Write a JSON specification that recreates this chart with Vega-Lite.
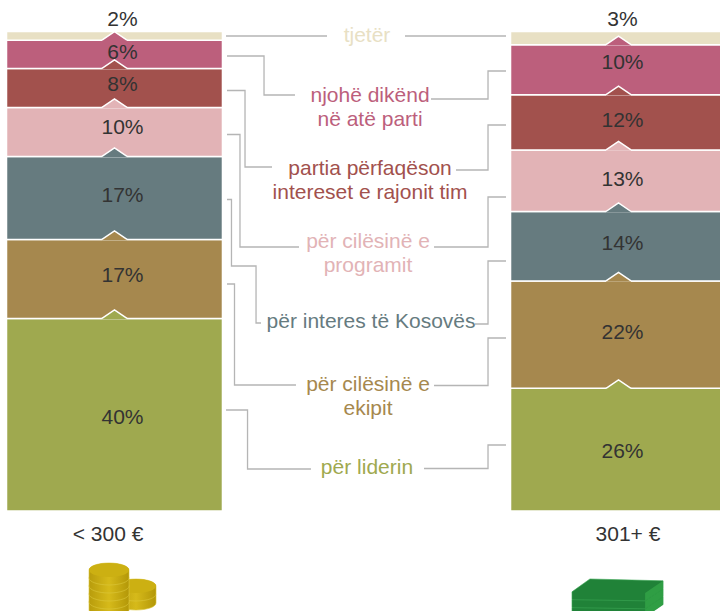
{
"$schema":"https://vega.github.io/schema/vega-lite/v6.json",
"width":720,"height":611,"padding":0,"autosize":{"type":"none"},"background":"white",
"config":{"view":{"stroke":null},"text":{"font":"Liberation Sans"}},
"datasets":{
"bars":[
{"income":"< 300 €","reason":"për liderin","order":1,"share":40.15,"label":"40%","labelAt":18.14},
{"income":"< 300 €","reason":"për cilësinë e ekipit","order":2,"share":16.48,"label":"17%","labelAt":47.86},
{"income":"< 300 €","reason":"për interes të Kosovës","order":3,"share":17.31,"label":"17%","labelAt":64.44},
{"income":"< 300 €","reason":"për cilësinë e programit","order":4,"share":10.22,"label":"10%","labelAt":78.62},
{"income":"< 300 €","reason":"partia përfaqëson interesat e rajonit tim","order":5,"share":8.13,"label":"8%","labelAt":87.59},
{"income":"< 300 €","reason":"njohë dikënd në atë parti","order":6,"share":5.9,"label":"6%","labelAt":94.26},
{"income":"< 300 €","reason":"tjetër","order":7,"share":1.81,"label":"2%","labelAt":101.15},
{"income":"301+ €","reason":"për liderin","order":1,"share":25.59,"label":"26%","labelAt":11.05},
{"income":"301+ €","reason":"për cilësinë e ekipit","order":2,"share":22.38,"label":"22%","labelAt":35.87},
{"income":"301+ €","reason":"për interes të Kosovës","order":3,"share":14.49,"label":"14%","labelAt":54.43},
{"income":"301+ €","reason":"për cilësinë e programit","order":4,"share":12.83,"label":"13%","labelAt":67.78},
{"income":"301+ €","reason":"partia përfaqëson interesat e rajonit tim","order":5,"share":11.53,"label":"12%","labelAt":80.08},
{"income":"301+ €","reason":"njohë dikënd në atë parti","order":6,"share":10.43,"label":"10%","labelAt":92.18},
{"income":"301+ €","reason":"tjetër","order":7,"share":2.75,"label":"3%","labelAt":101.15}
],
"notes":[
{"reason":"tjetër","text":"tjetër","gx":50.97,"v":97.81},
{"reason":"njohë dikënd në atë parti","text":"njohë dikënd\nnë atë parti","gx":51.39,"v":85.3},
{"reason":"partia përfaqëson interesat e rajonit tim","text":"partia përfaqëson\nintereset e rajonit tim","gx":51.39,"v":70.07},
{"reason":"për cilësinë e programit","text":"për cilësinë e\nprogramit","gx":51.11,"v":54.85},
{"reason":"për interes të Kosovës","text":"për interes të Kosovës","gx":51.53,"v":38.16},
{"reason":"për cilësinë e ekipit","text":"për cilësinë e\nekipit","gx":51.11,"v":25.03},
{"reason":"për liderin","text":"për liderin","gx":50.97,"v":7.72}
],
"groups":[
{"text":"< 300 €","gx":15,"v":-6.36},
{"text":"301+ €","gx":87.22,"v":-6.36}
],
"leaders":[
{"id":"a1","seq":1,"gx":31.39,"v":99.06},{"id":"a1","seq":2,"gx":45.42,"v":99.06},
{"id":"a2","seq":1,"gx":56.25,"v":99.06},{"id":"a2","seq":2,"gx":70.28,"v":99.06},
{"id":"b1","seq":1,"gx":31.53,"v":94.89},{"id":"b1","seq":2,"gx":36.67,"v":94.89},{"id":"b1","seq":3,"gx":36.67,"v":86.76},{"id":"b1","seq":4,"gx":40.97,"v":86.76},
{"id":"b2","seq":1,"gx":59.86,"v":85.92},{"id":"b2","seq":2,"gx":67.78,"v":85.92},{"id":"b2","seq":3,"gx":67.78,"v":91.76},{"id":"b2","seq":4,"gx":70.28,"v":91.76},
{"id":"c1","seq":1,"gx":31.53,"v":87.7},{"id":"c1","seq":2,"gx":34.03,"v":87.7},{"id":"c1","seq":3,"gx":34.03,"v":71.74},{"id":"c1","seq":4,"gx":37.78,"v":71.74},
{"id":"c2","seq":1,"gx":63.33,"v":71.12},{"id":"c2","seq":2,"gx":67.78,"v":71.12},{"id":"c2","seq":3,"gx":67.78,"v":80.5},{"id":"c2","seq":4,"gx":70.28,"v":80.5},
{"id":"d1","seq":1,"gx":31.53,"v":78.52},{"id":"d1","seq":2,"gx":33.33,"v":78.52},{"id":"d1","seq":3,"gx":33.33,"v":55.06},{"id":"d1","seq":4,"gx":41.53,"v":55.06},
{"id":"d2","seq":1,"gx":60.28,"v":55.06},{"id":"d2","seq":2,"gx":67.78,"v":55.06},{"id":"d2","seq":3,"gx":67.78,"v":65.48},{"id":"d2","seq":4,"gx":70.28,"v":65.48},
{"id":"e1","seq":1,"gx":31.53,"v":64.96},{"id":"e1","seq":2,"gx":32.15,"v":64.96},{"id":"e1","seq":3,"gx":32.15,"v":51.09},{"id":"e1","seq":4,"gx":35.56,"v":51.09},{"id":"e1","seq":5,"gx":35.56,"v":39.21},{"id":"e1","seq":6,"gx":36.25,"v":39.21},
{"id":"e2","seq":1,"gx":65.97,"v":39},{"id":"e2","seq":2,"gx":67.78,"v":39},{"id":"e2","seq":3,"gx":67.78,"v":52.14},{"id":"e2","seq":4,"gx":70.28,"v":52.14},
{"id":"f1","seq":1,"gx":31.53,"v":47.34},{"id":"f1","seq":2,"gx":32.57,"v":47.34},{"id":"f1","seq":3,"gx":32.57,"v":26.28},{"id":"f1","seq":4,"gx":41.11,"v":26.28},
{"id":"f2","seq":1,"gx":60.28,"v":26.17},{"id":"f2","seq":2,"gx":67.78,"v":26.17},{"id":"f2","seq":3,"gx":67.78,"v":36.08},{"id":"f2","seq":4,"gx":70.28,"v":36.08},
{"id":"g1","seq":1,"gx":31.39,"v":21.06},{"id":"g1","seq":2,"gx":34.38,"v":21.06},{"id":"g1","seq":3,"gx":34.38,"v":8.76},{"id":"g1","seq":4,"gx":43.19,"v":8.76},
{"id":"g2","seq":1,"gx":58.89,"v":8.86},{"id":"g2","seq":2,"gx":67.78,"v":8.86},{"id":"g2","seq":3,"gx":67.78,"v":13.76},{"id":"g2","seq":4,"gx":70.28,"v":13.76}
],
"coinsBack":[{"n":1,"gx":18.89,"v":-17.52},{"n":2,"gx":18.89,"v":-15.64}],
"coinsFront":[{"n":1,"gx":15.14,"v":-18.98},{"n":2,"gx":15.14,"v":-17.31},{"n":3,"gx":15.14,"v":-15.64},{"n":4,"gx":15.14,"v":-13.97},{"n":5,"gx":15.14,"v":-12.3}],
"cash":[{"n":1,"gx":85.83,"v":-19.81},{"n":2,"gx":85.83,"v":-18.14},{"n":3,"gx":85.83,"v":-16.48}]
},
"layer":[
{"data":{"name":"bars"},
 "transform":[{"stack":"share","groupby":["income"],"sort":[{"field":"order","order":"ascending"}],"as":["y0","y1"]}],
 "mark":{"type":"bar","stroke":"white","strokeWidth":1.5},
 "encoding":{
  "x":{"field":"income","type":"nominal","axis":null,"sort":["< 300 €","labels","301+ €"],"scale":{"type":"band","domain":["< 300 €","labels","301+ €"],"range":[6.5,726.5],"paddingInner":0.143,"paddingOuter":0}},
  "y":{"field":"y0","type":"quantitative","axis":null,"scale":{"domain":[0,100],"range":[511,31.5],"nice":false,"zero":false}},
  "y2":{"field":"y1"},
  "color":{"field":"reason","type":"nominal","legend":null,"scale":{"domain":["për liderin","për cilësinë e ekipit","për interes të Kosovës","për cilësinë e programit","partia përfaqëson interesat e rajonit tim","njohë dikënd në atë parti","tjetër"],"range":["#9FA94F","#A6884E","#667B7F","#E2B3B6","#A2514D","#BC5F7C","#E8E0C4"]}}
 }},
{"data":{"name":"bars"},
 "transform":[{"stack":"share","groupby":["income"],"sort":[{"field":"order","order":"ascending"}],"as":["y0","y1"]},{"filter":"datum.reason !== 'tjetër'"}],
 "mark":{"type":"point","filled":true,"opacity":1,"strokeWidth":0,"shape":"M-1,0.07 L-1,0 L0,-0.68 L1,0 L1,0.07 Z","size":625},
 "encoding":{
  "x":{"field":"income","type":"nominal","axis":null,"scale":{"type":"band","domain":["< 300 €","labels","301+ €"],"range":[6.5,726.5],"paddingInner":0.143,"paddingOuter":0}},
  "y":{"field":"y1","type":"quantitative","axis":null,"scale":{"domain":[0,100],"range":[511,31.5],"nice":false,"zero":false}},
  "color":{"field":"reason","type":"nominal","legend":null}
 }},
{"data":{"name":"bars"},
 "transform":[{"stack":"share","groupby":["income"],"sort":[{"field":"order","order":"ascending"}],"as":["y0","y1"]},{"filter":"datum.reason !== 'tjetër'"}],
 "mark":{"type":"point","filled":false,"opacity":1,"stroke":"white","strokeWidth":1.5,"shape":"M-1,0 L0,-0.68 L1,0","size":625},
 "encoding":{
  "x":{"field":"income","type":"nominal","axis":null,"scale":{"type":"band","domain":["< 300 €","labels","301+ €"],"range":[6.5,726.5],"paddingInner":0.143,"paddingOuter":0}},
  "y":{"field":"y1","type":"quantitative","axis":null,"scale":{"domain":[0,100],"range":[511,31.5],"nice":false,"zero":false}}
 }},
{"data":{"name":"bars"},
 "transform":[{"filter":"datum.income === '< 300 €'"}],
 "mark":{"type":"text","fontSize":21,"fill":"#333333","align":"center","baseline":"alphabetic","dx":8},
 "encoding":{
  "x":{"field":"income","type":"nominal","axis":null,"scale":{"type":"band","domain":["< 300 €","labels","301+ €"],"range":[6.5,726.5],"paddingInner":0.143,"paddingOuter":0}},
  "y":{"field":"labelAt","type":"quantitative","axis":null,"scale":{"domain":[0,100],"range":[511,31.5],"nice":false,"zero":false}},
  "text":{"field":"label","type":"nominal"}
 }},
{"data":{"name":"bars"},
 "transform":[{"filter":"datum.income === '301+ €'"}],
 "mark":{"type":"text","fontSize":21,"fill":"#333333","align":"center","baseline":"alphabetic","dx":4},
 "encoding":{
  "x":{"field":"income","type":"nominal","axis":null,"scale":{"type":"band","domain":["< 300 €","labels","301+ €"],"range":[6.5,726.5],"paddingInner":0.143,"paddingOuter":0}},
  "y":{"field":"labelAt","type":"quantitative","axis":null,"scale":{"domain":[0,100],"range":[511,31.5],"nice":false,"zero":false}},
  "text":{"field":"label","type":"nominal"}
 }},
{"data":{"name":"leaders"},
 "mark":{"type":"line","stroke":"#b5b5b5","strokeWidth":1.3,"interpolate":"linear"},
 "encoding":{
  "x":{"field":"gx","type":"quantitative","axis":null,"scale":{"domain":[0,100],"nice":false,"zero":false}},
  "y":{"field":"v","type":"quantitative","axis":null,"scale":{"domain":[0,100],"range":[511,31.5],"nice":false,"zero":false}},
  "detail":{"field":"id","type":"nominal"},
  "order":{"field":"seq","type":"quantitative"}
 }},
{"data":{"name":"notes"},
 "mark":{"type":"text","fontSize":21,"align":"center","baseline":"alphabetic","lineBreak":"\n","lineHeight":24},
 "encoding":{
  "x":{"field":"gx","type":"quantitative","axis":null,"scale":{"domain":[0,100],"nice":false,"zero":false}},
  "y":{"field":"v","type":"quantitative","axis":null,"scale":{"domain":[0,100],"range":[511,31.5],"nice":false,"zero":false}},
  "color":{"field":"reason","type":"nominal","legend":null},
  "text":{"field":"text","type":"nominal"}
 }},
{"data":{"name":"groups"},
 "mark":{"type":"text","fontSize":21,"fill":"#333333","align":"center","baseline":"alphabetic"},
 "encoding":{
  "x":{"field":"gx","type":"quantitative","axis":null,"scale":{"domain":[0,100],"nice":false,"zero":false}},
  "y":{"field":"v","type":"quantitative","axis":null,"scale":{"domain":[0,100],"range":[511,31.5],"nice":false,"zero":false}},
  "text":{"field":"text","type":"nominal"}
 }},
{"data":{"name":"coinsBack"},
 "mark":{"type":"point","filled":true,"opacity":1,"shape":"M-1,0 A1,0.35 0 0 1 1,0 L1,0.4 A1,0.35 0 0 1 -1,0.4 Z","size":1600,"strokeWidth":0.6,"stroke":"#dcc73c","fill":{"gradient":"linear","x1":0,"y1":0,"x2":1,"y2":0,"stops":[{"offset":0,"color":"#b89c0c"},{"offset":0.5,"color":"#d6ba1a"},{"offset":1,"color":"#b39708"}]}},
 "encoding":{
  "x":{"field":"gx","type":"quantitative","axis":null,"scale":{"domain":[0,100],"nice":false,"zero":false}},
  "y":{"field":"v","type":"quantitative","axis":null,"scale":{"domain":[0,100],"range":[511,31.5],"nice":false,"zero":false}},
  "order":{"field":"n","type":"quantitative"}
 }},
{"data":{"name":"coinsBack"},
 "transform":[{"filter":"datum.n === 2"}],
 "mark":{"type":"point","filled":true,"opacity":1,"shape":"M-1,0 A1,0.35 0 1 1 1,0 A1,0.35 0 1 1 -1,0 Z","size":1600,"strokeWidth":0,"fill":"#ccb012"},
 "encoding":{
  "x":{"field":"gx","type":"quantitative","axis":null,"scale":{"domain":[0,100],"nice":false,"zero":false}},
  "y":{"field":"v","type":"quantitative","axis":null,"scale":{"domain":[0,100],"range":[511,31.5],"nice":false,"zero":false}}
 }},
{"data":{"name":"coinsFront"},
 "mark":{"type":"point","filled":true,"opacity":1,"shape":"M-1,0 A1,0.35 0 0 1 1,0 L1,0.4 A1,0.35 0 0 1 -1,0.4 Z","size":1600,"strokeWidth":0.6,"stroke":"#dcc73c","fill":{"gradient":"linear","x1":0,"y1":0,"x2":1,"y2":0,"stops":[{"offset":0,"color":"#b89c0c"},{"offset":0.5,"color":"#d6ba1a"},{"offset":1,"color":"#b39708"}]}},
 "encoding":{
  "x":{"field":"gx","type":"quantitative","axis":null,"scale":{"domain":[0,100],"nice":false,"zero":false}},
  "y":{"field":"v","type":"quantitative","axis":null,"scale":{"domain":[0,100],"range":[511,31.5],"nice":false,"zero":false}},
  "order":{"field":"n","type":"quantitative"}
 }},
{"data":{"name":"coinsFront"},
 "transform":[{"filter":"datum.n === 5"}],
 "mark":{"type":"point","filled":true,"opacity":1,"shape":"M-1,0 A1,0.35 0 1 1 1,0 A1,0.35 0 1 1 -1,0 Z","size":1600,"strokeWidth":0,"fill":"#ccb012"},
 "encoding":{
  "x":{"field":"gx","type":"quantitative","axis":null,"scale":{"domain":[0,100],"nice":false,"zero":false}},
  "y":{"field":"v","type":"quantitative","axis":null,"scale":{"domain":[0,100],"range":[511,31.5],"nice":false,"zero":false}}
 }},
{"data":{"name":"cash"},
 "mark":{"type":"point","filled":true,"opacity":1,"shape":"M-1,0.04 L-0.61,-0.24 L0.98,-0.2 L0.98,-0.03 L0.59,0.235 L-1,0.21 Z","size":8464,"strokeWidth":0.6,"stroke":"#3da856","fill":"#208238"},
 "encoding":{
  "x":{"field":"gx","type":"quantitative","axis":null,"scale":{"domain":[0,100],"nice":false,"zero":false}},
  "y":{"field":"v","type":"quantitative","axis":null,"scale":{"domain":[0,100],"range":[511,31.5],"nice":false,"zero":false}},
  "order":{"field":"n","type":"quantitative"}
 }},
{"data":{"name":"cash"},
 "mark":{"type":"point","filled":true,"opacity":1,"shape":"M0.59,0.065 L0.98,-0.2 L0.98,-0.03 L0.59,0.235 Z","size":8464,"strokeWidth":0,"fill":"#2f9e44"},
 "encoding":{
  "x":{"field":"gx","type":"quantitative","axis":null,"scale":{"domain":[0,100],"nice":false,"zero":false}},
  "y":{"field":"v","type":"quantitative","axis":null,"scale":{"domain":[0,100],"range":[511,31.5],"nice":false,"zero":false}}
 }}
],
"resolve":{"scale":{"x":"independent"}}
}
